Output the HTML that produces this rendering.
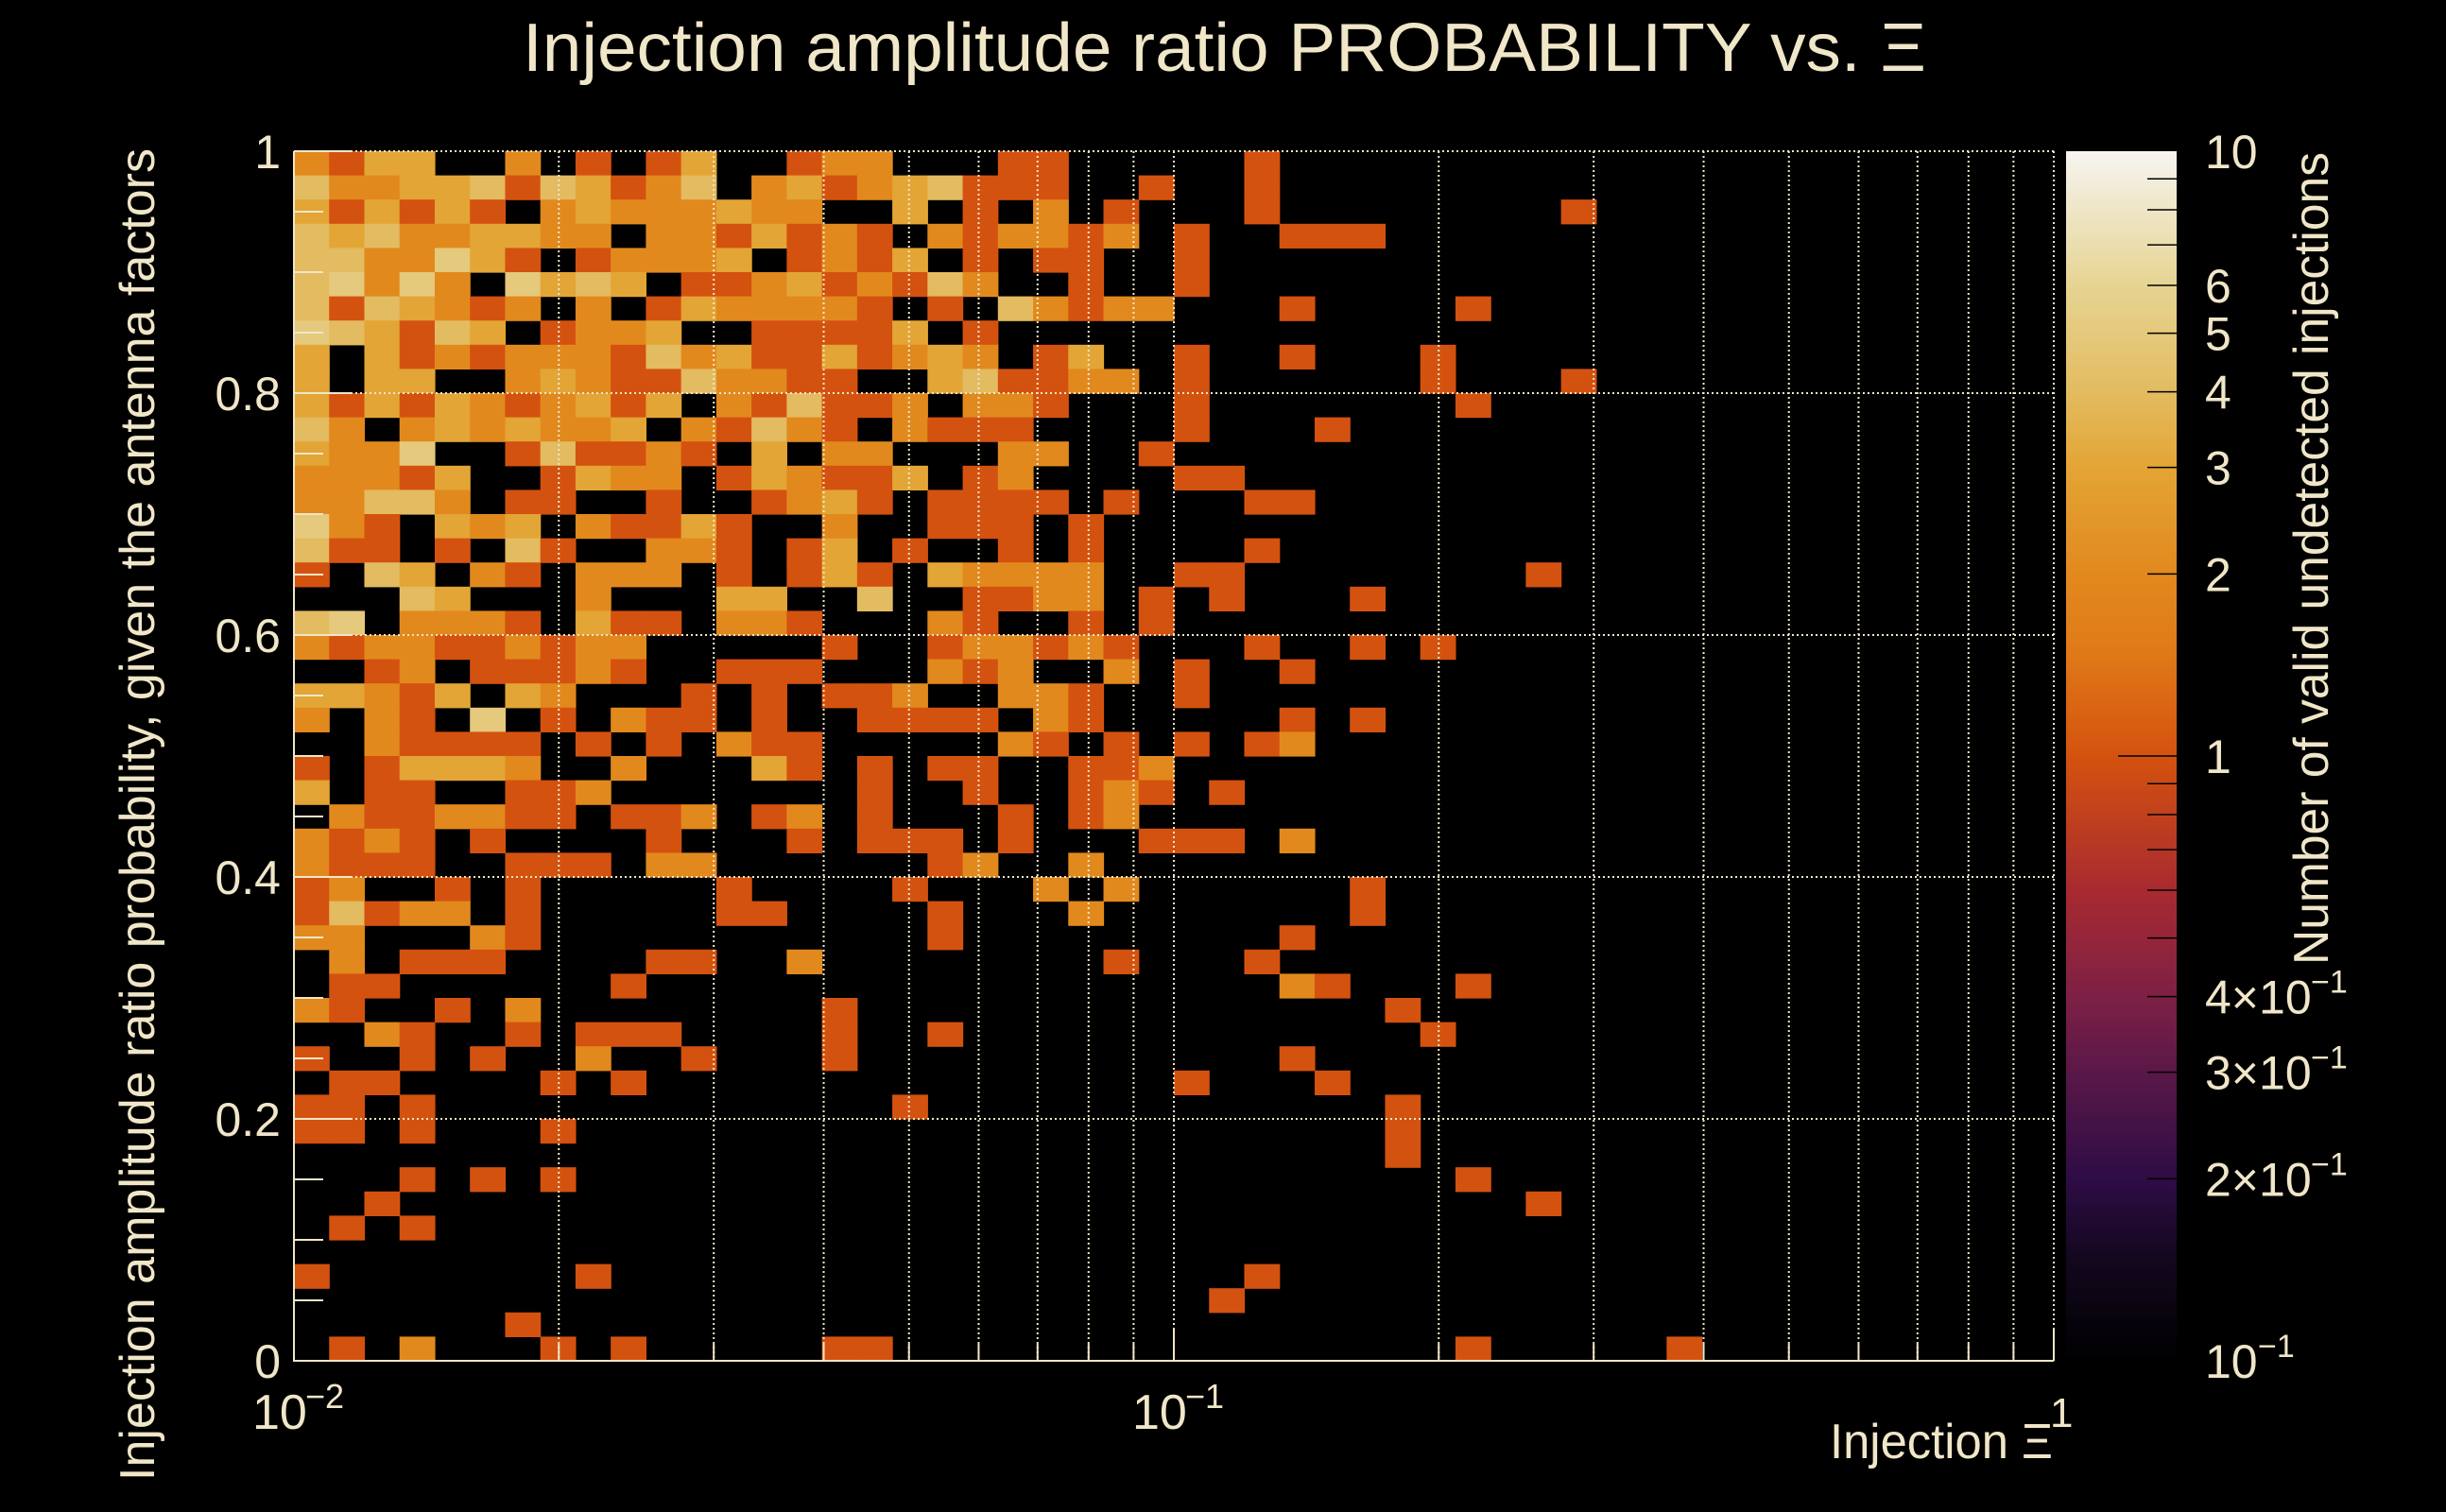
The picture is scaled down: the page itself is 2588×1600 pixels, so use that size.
<!DOCTYPE html>
<html><head><meta charset="utf-8"><title>Injection amplitude ratio PROBABILITY vs. Xi</title>
<style>
html,body{margin:0;padding:0;background:#000;}
body{width:2588px;height:1600px;overflow:hidden;}
svg{display:block;}
text{font-family:"Liberation Sans","DejaVu Sans",sans-serif;fill:#f0e6c8;}
</style></head>
<body>
<svg id="chart" width="2588" height="1600" viewBox="0 0 2588 1600" xmlns="http://www.w3.org/2000/svg">
  <rect x="0" y="0" width="2588" height="1600" fill="#000"/>
  <g id="cells"></g>
  <g id="grid"></g>
  <g id="axes"></g>
  <g id="cbar"></g>
  <text x="553" y="75" font-size="72" textLength="1485" lengthAdjust="spacingAndGlyphs">Injection amplitude ratio PROBABILITY vs.  Ξ</text>
  <text transform="translate(163,157) rotate(-90)" text-anchor="end" font-size="52" textLength="1410" lengthAdjust="spacingAndGlyphs">Injection amplitude ratio probability, given the antenna factors</text>
  <text x="1936" y="1543" font-size="52" textLength="236" lengthAdjust="spacingAndGlyphs">Injection Ξ</text>
  <text transform="translate(2463,161) rotate(-90)" text-anchor="end" font-size="52" textLength="860" lengthAdjust="spacingAndGlyphs">Number of valid undetected injections</text>
</svg>
<script>
// ---- data: counts per bin, rows from top (y 0.98-1.00) to bottom (y 0.00-0.02); 50 log-x bins ----
const xMin = 0.01, xMax = 1, yMin = 0, yMax = 1, nX = 50, nY = 50;
const countsLeft = [
"213300201013001","422334143124023","313131023222322","434223322022131","442253101222301",
"452520534301123","414321202013222","543143012230011","303121222142311","303300232114221",
"313132123130214","420232322302142","322500141121030","222130013220132","224420110010012",
"521032302113100","411010410022101","104302102220101","000430002000330","450222103110221",
"212211212200000","001201112100111","332130320001010","202105010211010","002111101010211",
"101333200200031","301100112000000","021122110112012","212101000010001","211100111022000",
"120010100000100","141220100000110","220002100000000","020111000011002","011000000100000",
"210010200000000","002100101110000","100101002001000","011000010100000","110100000000000",
"110100010000000","000000000000000","000101010000000","001000000000000","010100000000000",
"000000000000000","100000001000000","000000000000000","000000100000000","010200010100000"];
const countsMid = [
"220001100000100","123411100100100","003010201000100","210212212010011","213010110010000",
"121420010010000","210104212200010","113010000000000","312320130010010","100341122010000",
"112022100010000","102111000010001","220002200100000","113012000011000","310111101000110",
"200111010000000","301001010000100","310322220011000","040011220101000","000210010100000",
"100122121000100","000212002010010","112002210010000","011110210000010","000002101010120",
"010110011200000","010010012101000","010001012000000","011101000111020","000120020000000",
"001000202000000","000100020000000","000100000000010","000000001000100","000000000000021",
"100000000000000","100100000000000","100000000000010","000000000010001","001000000000000",
"000000000000000","000000000000000","000000000000000","000000000000000","000000000000000",
"000000000000000","000000000000100","000000000001000","000000000000000","110000000000000"];
const countsRight = [
"00000000000000000000","00000000000000000000","00000010000000000000","10000000000000000000","00000000000000000000",
"00000000000000000000","00010000000000000000","00000000000000000000","00100000000000000000","00100010000000000000",
"00010000000000000000","00000000000000000000","00000000000000000000","00000000000000000000","00000000000000000000",
"00000000000000000000","00000000000000000000","00000100000000000000","10000000000000000000","00000000000000000000",
"10100000000000000000","00000000000000000000","00000000000000000000","10000000000000000000","00000000000000000000",
"00000000000000000000","00000000000000000000","00000000000000000000","00000000000000000000","00000000000000000000",
"10000000000000000000","10000000000000000000","00000000000000000000","00000000000000000000","00010000000000000000",
"01000000000000000000","00100000000000000000","00000000000000000000","00000000000000000000","01000000000000000000",
"01000000000000000000","01000000000000000000","00010000000000000000","00000100000000000000","00000000000000000000",
"00000000000000000000","00000000000000000000","00000000000000000000","00000000000000000000","00010000010000000000"];
const yTickValues = [0, 0.2, 0.4, 0.6, 0.8, 1];
const yTickLabels = ["0", "0.2", "0.4", "0.6", "0.8", "1"];
const zMin = 0.1, zMax = 10;
const zTickValues = [10, 6, 5, 4, 3, 2, 1, 0.4, 0.3, 0.2, 0.1];
const zTickLabels = ["10", "6", "5", "4", "3", "2", "1", "4×10", "3×10", "2×10", "10"];
const zTickExp = ["", "", "", "", "", "", "", "−1", "−1", "−1", "−1"];

// ---- layout ----
const PX0 = 311, PX1 = 2173, PY0 = 160, PY1 = 1440;
const CB0 = 2186, CB1 = 2303;
const NS = "http://www.w3.org/2000/svg";
const CREAM = "#f0e6c8";
function xScale(v){ return PX0 + (Math.log10(v) - Math.log10(xMin)) / (Math.log10(xMax) - Math.log10(xMin)) * (PX1 - PX0); }
function yScale(v){ return PY1 - (v - yMin) / (yMax - yMin) * (PY1 - PY0); }
function zScale(v){ return PY1 - (Math.log10(v) - Math.log10(zMin)) / (Math.log10(zMax) - Math.log10(zMin)) * (PY1 - PY0); }
function mk(tag, attrs, parent){
  const e = document.createElementNS(NS, tag);
  for (const k in attrs) e.setAttribute(k, attrs[k]);
  parent.appendChild(e); return e;
}
const stops = [[0,"#000000"],[0.088,"#140820"],[0.15,"#2e0c45"],[0.239,"#5a1848"],[0.301,"#7d2045"],[0.389,"#a82a30"],[0.5,"#d4520f"],[0.588,"#e07a18"],[0.65,"#e2891e"],[0.739,"#e3a535"],[0.801,"#e3bb60"],[0.889,"#e6d492"],[1,"#f6f4f0"]];
function hex2rgb(h){ return [parseInt(h.substr(1,2),16),parseInt(h.substr(3,2),16),parseInt(h.substr(5,2),16)]; }
function cmap(v){
  let t = (Math.log10(v) - Math.log10(zMin)) / (Math.log10(zMax) - Math.log10(zMin));
  t = Math.max(0, Math.min(1, t));
  for (let i = 0; i < stops.length - 1; i++){
    if (t <= stops[i+1][0]){
      const f = (t - stops[i][0]) / (stops[i+1][0] - stops[i][0]);
      const a = hex2rgb(stops[i][1]), b = hex2rgb(stops[i+1][1]);
      return "rgb(" + a.map((c,j)=>Math.round(c + (b[j]-c)*f)).join(",") + ")";
    }
  }
  return stops[stops.length-1][1];
}

// ---- cells ----
const gCells = document.getElementById("cells");
const dLog = (Math.log10(xMax) - Math.log10(xMin)) / nX;
const dY = (yMax - yMin) / nY;
for (let r = 0; r < nY; r++){
  const rowStr = countsLeft[r] + countsMid[r] + countsRight[r];
  const yLo = yMin + (nY - 1 - r) * dY, yHi = yLo + dY;
  for (let c = 0; c < nX; c++){
    const v = parseInt(rowStr[c], 10);
    if (!v) continue;
    const xa = xScale(Math.pow(10, Math.log10(xMin) + c * dLog));
    const xb = xScale(Math.pow(10, Math.log10(xMin) + (c + 1) * dLog));
    const rect = mk("rect", {x: xa, y: yScale(yHi), width: xb - xa + 0.6, height: yScale(yLo) - yScale(yHi) + 0.6, fill: cmap(v)}, gCells);
    
    
  }
}

// ---- grid ----
const gGrid = document.getElementById("grid");
const gridX = [];
for (let d = -2; d < 0; d++) for (let m = 1; m <= 9; m++){ const v = m * Math.pow(10, d); if (v > xMin) gridX.push(v); }
gridX.push(1);
gridX.forEach(v => {
  const l = mk("line", {x1: xScale(v), x2: xScale(v), y1: PY0, y2: PY1, stroke: CREAM, "stroke-width": 2, "stroke-dasharray": "2 3"}, gGrid);
  
  
});
yTickValues.forEach(v => {
  if (v === 0) return;
  const l = mk("line", {x1: PX0, x2: PX1, y1: yScale(v), y2: yScale(v), stroke: CREAM, "stroke-width": 2, "stroke-dasharray": "2 3"}, gGrid);
  
  
});

// ---- axes ----
const gAx = document.getElementById("axes");
const axL = mk("line", {x1: PX0, x2: PX0, y1: PY0, y2: PY1 + 1, stroke: CREAM, "stroke-width": 2}, gAx);


const axB = mk("line", {x1: PX0, x2: PX1, y1: PY1, y2: PY1, stroke: CREAM, "stroke-width": 2}, gAx);


for (let i = 0; i <= 20; i++){
  const v = i * 0.05;
  const major = Math.abs(v * 5 - Math.round(v * 5)) < 1e-6;
  const t = mk("line", {x1: PX0, x2: PX0 + (major ? 62 : 31), y1: yScale(v), y2: yScale(v), stroke: CREAM, "stroke-width": 2}, gAx);
  
  
}
yTickValues.forEach((v, i) => {
  const t = mk("text", {x: 297, y: yScale(v) + 18, "text-anchor": "end", "font-size": 50}, gAx);
  t.textContent = yTickLabels[i];
  
  
});
gridX.concat([xMin]).forEach(v => {
  const major = Math.abs(Math.log10(v) - Math.round(Math.log10(v))) < 1e-6;
  const t = mk("line", {x1: xScale(v), x2: xScale(v), y1: PY1, y2: PY1 - (major ? 35 : 18), stroke: CREAM, "stroke-width": 2}, gAx);
  
  
});
[[0.01, "−2"], [0.1, "−1"]].forEach(([v, ex]) => {
  const t = mk("text", {x: xScale(v) - 44, y: 1512, "font-size": 52}, gAx);
  t.textContent = "10";
  
  
  const s = mk("text", {x: xScale(v) + 12, y: 1490, "font-size": 36}, gAx);
  s.textContent = ex;
  
  
});
const one = mk("text", {x: xScale(1) - 4, y: 1510, "font-size": 44}, gAx);
one.textContent = "1";



// ---- colour bar ----
const gCb = document.getElementById("cbar");
const N = 320;
for (let i = 0; i < N; i++){
  const va = Math.pow(10, Math.log10(zMin) + i / N * (Math.log10(zMax) - Math.log10(zMin)));
  const vb = Math.pow(10, Math.log10(zMin) + (i + 1) / N * (Math.log10(zMax) - Math.log10(zMin)));
  const s = mk("rect", {x: CB0, width: CB1 - CB0, y: zScale(vb), height: zScale(va) - zScale(vb) + 0.6, fill: cmap((va + vb) / 2)}, gCb);
  
  
}
const cbTicks = [0.2,0.3,0.4,0.5,0.6,0.7,0.8,0.9,1,2,3,4,5,6,7,8,9];
cbTicks.forEach(v => {
  const t = mk("line", {x1: CB1, x2: CB1 - (v === 1 ? 62 : 31), y1: zScale(v), y2: zScale(v), stroke: "#000", "stroke-width": 1.5}, gCb);
  
  
});
zTickValues.forEach((v, i) => {
  const t = mk("text", {x: 2333, y: zScale(v) + 18, "font-size": 50}, gCb);
  t.textContent = zTickLabels[i];
  
  
  if (zTickExp[i]){
    const w = zTickLabels[i].length === 2 ? 56 : 112;
    const e = mk("text", {x: 2333 + w, y: zScale(v) - 4, "font-size": 34}, gCb);
    e.textContent = zTickExp[i];
    
    
  }
});
</script>
</body></html>
